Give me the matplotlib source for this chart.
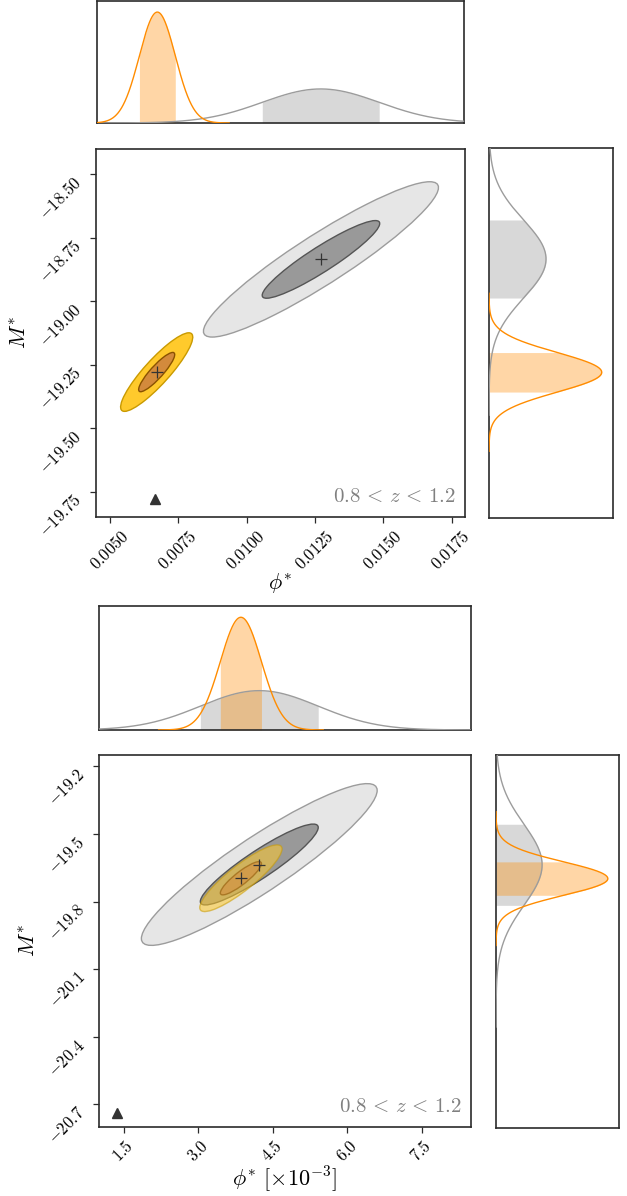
import numpy as np
import matplotlib
matplotlib.use("Agg")
import matplotlib.pyplot as plt
from matplotlib.patches import Ellipse
from matplotlib.ticker import FixedLocator, FuncFormatter

plt.rcParams['mathtext.fontset'] = 'cm'
plt.rcParams['font.family'] = ['DejaVu Serif']

# ---------------- data ----------------
# panel 1 (phi* in natural units)
p1_gray_center = [0.01272, -18.835]
p1_gray_sigma = [0.00215, 0.153]
p1_gray_rho = 0.925
p1_orange_center = [0.00671, -19.279]
p1_orange_sigma = [0.00066, 0.0774]
p1_orange_rho = 0.89
p1_triangle = [0.00666, -19.78]
p1_xticks = [0.0050, 0.0075, 0.0100, 0.0125, 0.0150, 0.0175]
p1_yticks = [-18.50, -18.75, -19.00, -19.25, -19.50, -19.75]
p1_xlim = [0.00449, 0.01799]
p1_ylim = [-19.85, -18.40]

# panel 2 (phi* in units of 1e-3)
p2_gray_center = [4.23, -19.635]
p2_gray_sigma = [1.186, 0.1795]
p2_gray_rho = 0.915
p2_orange_center = [3.86, -19.696]
p2_orange_sigma = [0.414, 0.074]
p2_orange_rho = 0.88
p2_triangle = [1.37, -20.74]
p2_xticks = [1.5, 3.0, 4.5, 6.0, 7.5]
p2_yticks = [-19.2, -19.5, -19.8, -20.1, -20.4, -20.7]
p2_xlim = [1.005, 8.49]
p2_ylim = [-20.80, -19.149]

label_text = r'$0.8\,<\,z\,<\,1.2$'

W, H = 627, 1196
fig = plt.figure(figsize=(W / 100, H / 100), dpi=100)


def rect(x0, y0, x1, y1):
    return [x0 / W, 1 - y1 / H, (x1 - x0) / W, (y1 - y0) / H]


SPINE = '#2b2b2b'


def style_spines(ax):
    for s in ax.spines.values():
        s.set_color(SPINE)
        s.set_linewidth(1.2)


def cov_ellipse(ax, center, sigma, rho, k, **kw):
    cov = np.array([[sigma[0] ** 2, rho * sigma[0] * sigma[1]],
                    [rho * sigma[0] * sigma[1], sigma[1] ** 2]])
    vals, vecs = np.linalg.eigh(cov)
    order = vals.argsort()[::-1]
    vals, vecs = vals[order], vecs[:, order]
    ang = np.degrees(np.arctan2(vecs[1, 0], vecs[0, 0]))
    e = Ellipse(center, 2 * k * np.sqrt(vals[0]), 2 * k * np.sqrt(vals[1]),
                angle=ang, **kw)
    ax.add_patch(e)


def gauss(t, mu, s):
    return np.exp(-0.5 * ((t - mu) / s) ** 2) / (s * np.sqrt(2 * np.pi))


def marginal(ax, mu, s, color, fillcolor, falpha, vertical=False, z=1):
    t = np.linspace(mu - 4 * s, mu + 4 * s, 600)
    g = gauss(t, mu, s)
    tb = np.linspace(mu - s, mu + s, 300)
    gb = gauss(tb, mu, s)
    if vertical:
        ax.fill_betweenx(tb, 0, gb, color=fillcolor, alpha=falpha, lw=0, zorder=z)
        ax.plot(g, t, color=color, lw=1.0, zorder=z + 2)
    else:
        ax.fill_between(tb, 0, gb, color=fillcolor, alpha=falpha, lw=0, zorder=z)
        ax.plot(t, g, color=color, lw=1.0, zorder=z + 2)
    return g.max()


def panel(main_r, top_r, right_r, gc, gs, gr, oc, os_, orr, tri, xt, yt, xl, yl,
          xfmt, yfmt, xlabel, orange_alpha):
    ax = fig.add_axes(rect(*main_r))
    axt = fig.add_axes(rect(*top_r))
    axr = fig.add_axes(rect(*right_r))

    # gray contours
    cov_ellipse(ax, gc, gs, gr, 2, facecolor='#e6e6e6', edgecolor='#9c9c9c', lw=1.0, zorder=1)
    cov_ellipse(ax, gc, gs, gr, 1, facecolor='#999999', edgecolor='#555555', lw=1.0, zorder=2)
    # orange contours
    cov_ellipse(ax, oc, os_, orr, 2, facecolor='#ffca2c', edgecolor='#c99a00', lw=1.0,
                alpha=orange_alpha, zorder=3)
    cov_ellipse(ax, oc, os_, orr, 1, facecolor='#d38a3c', edgecolor='#8a5200', lw=1.0,
                alpha=orange_alpha, zorder=4)
    ax.plot([gc[0]], [gc[1]], marker='+', ms=9, mew=0.9, color='#333333', ls='none', zorder=6)
    ax.plot([oc[0]], [oc[1]], marker='+', ms=9, mew=0.9, color='#333333', ls='none', zorder=6)
    ax.plot([tri[0]], [tri[1]], marker='^', ms=7, color='#333333', ls='none', zorder=6)

    ax.set_xlim(xl)
    ax.set_ylim(yl)
    ax.xaxis.set_major_locator(FixedLocator(xt))
    ax.yaxis.set_major_locator(FixedLocator(yt))
    ax.xaxis.set_major_formatter(FuncFormatter(xfmt))
    ax.yaxis.set_major_formatter(FuncFormatter(yfmt))
    ax.tick_params(labelsize=12, length=4, width=0.9, color=SPINE)
    for lab in ax.get_xticklabels():
        lab.set_rotation(45)
    for lab in ax.get_yticklabels():
        lab.set_rotation(45)
        lab.set_verticalalignment('top')
        lab.set_horizontalalignment('right')
    ax.set_ylabel(r'$M^{*}$', fontsize=16, labelpad=4)
    ax.set_xlabel(xlabel, fontsize=16, labelpad=-1)
    ax.text(0.977, 0.03, label_text, transform=ax.transAxes, ha='right', va='bottom',
            fontsize=15, color='#808080')
    style_spines(ax)

    # top marginal
    m1 = marginal(axt, gc[0], gs[0], '#9c9c9c', 'gray', 0.3, z=1)
    m2 = marginal(axt, oc[0], os_[0], 'darkorange', 'darkorange', 0.35, z=2)
    axt.set_xlim(xl)
    axt.set_ylim(0, 1.1 * max(m1, m2))
    axt.set_xticks([])
    axt.set_yticks([])
    style_spines(axt)

    # right marginal
    m1 = marginal(axr, gc[1], gs[1], '#9c9c9c', 'gray', 0.3, vertical=True, z=1)
    m2 = marginal(axr, oc[1], os_[1], 'darkorange', 'darkorange', 0.35, vertical=True, z=2)
    axr.set_ylim(yl)
    axr.set_xlim(0, 1.1 * max(m1, m2))
    axr.set_xticks([])
    axr.set_yticks([])
    style_spines(axr)


panel((96, 149, 465, 517), (97, 1, 464, 123), (489, 148, 613, 518),
      p1_gray_center, p1_gray_sigma, p1_gray_rho,
      p1_orange_center, p1_orange_sigma, p1_orange_rho, p1_triangle,
      p1_xticks, p1_yticks, p1_xlim, p1_ylim,
      lambda v, p: r'$%.4f$' % v, lambda v, p: r'$%.2f$' % v,
      r'$\phi^{*}$', 1.0)

panel((99, 755, 471, 1127), (99, 606, 471, 730), (496, 755, 619, 1128),
      p2_gray_center, p2_gray_sigma, p2_gray_rho,
      p2_orange_center, p2_orange_sigma, p2_orange_rho, p2_triangle,
      p2_xticks, p2_yticks, p2_xlim, p2_ylim,
      lambda v, p: r'$%.1f$' % v, lambda v, p: r'$%.1f$' % v,
      r'$\phi^{*}\ [\times 10^{-3}]$', 0.55)

fig.savefig('out.png', dpi=100)
